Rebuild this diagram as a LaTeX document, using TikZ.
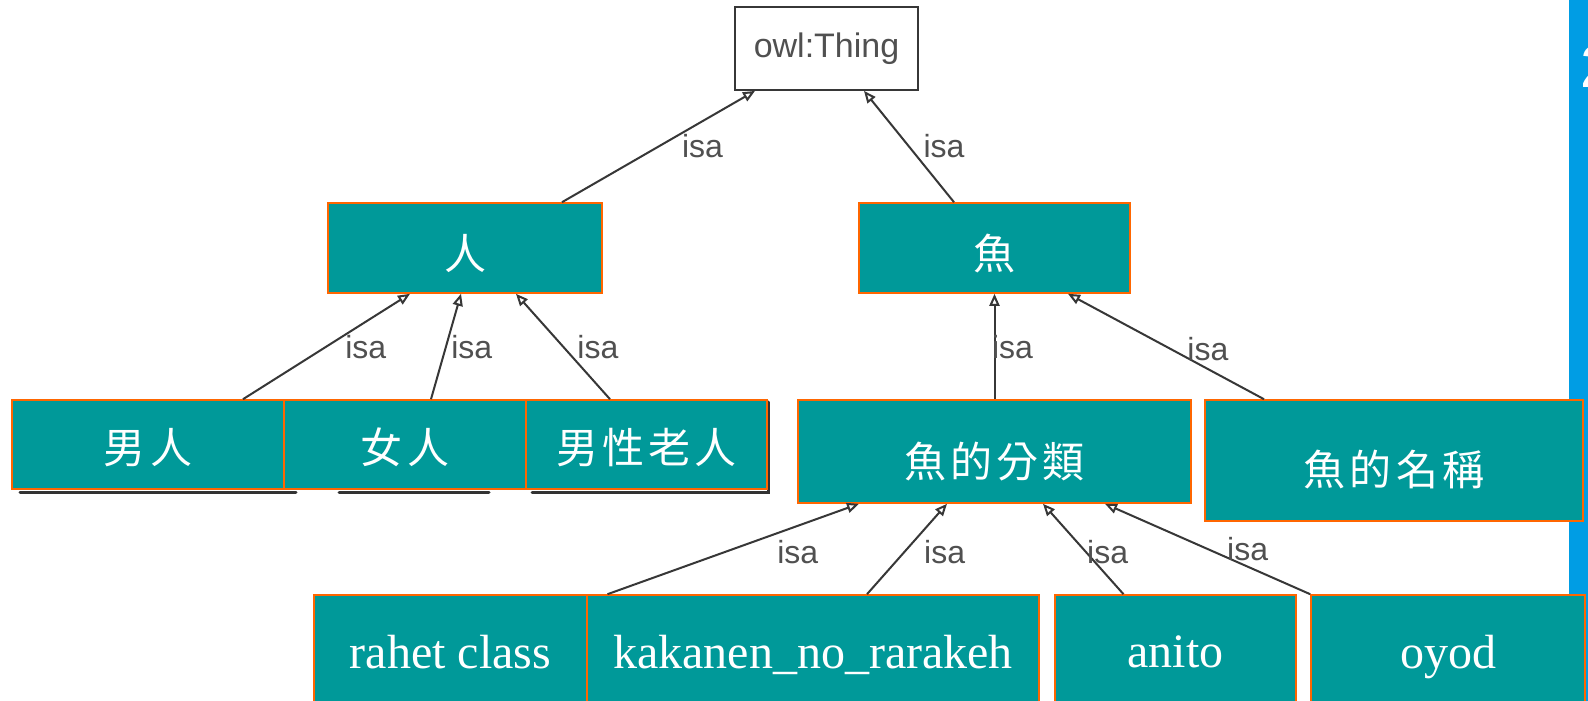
\documentclass[tikz,border=0pt]{standalone}
\usepackage{fontspec}
\setmainfont{Liberation Serif}
\newfontfamily\cjk[LetterSpace=10]{Noto Sans CJK TC}
\newfontfamily\arialf{Liberation Sans}
\usetikzlibrary{arrows.meta,calc}
\definecolor{boxfill}{RGB}{0,153,153}
\definecolor{boxline}{RGB}{255,102,0}
\definecolor{barblue}{RGB}{0,157,228}
\definecolor{edgegray}{RGB}{55,55,55}
\definecolor{lblgray}{RGB}{80,80,80}
\newcommand{\lowr}[2]{\raisebox{-#1}[\height][\depth]{#2}}
\newcommand{\lowlat}[1]{\raisebox{-2pt}[\height][0pt]{#1}}
\tikzset{
  cls/.style={draw=boxline, fill=boxfill, line width=1.6pt, inner sep=0pt, text=white, align=center},
  cjkcls/.style={cls, font=\cjk\fontsize{42}{48}\selectfont},
  latcls/.style={cls, font=\fontsize{48}{54}\selectfont},
  thingbox/.style={draw=edgegray, fill=white, line width=1.8pt, inner sep=0pt, text=lblgray, font=\arialf\fontsize{34}{38}\selectfont},
  isa/.style={draw=edgegray, line width=2pt, -{Triangle[open, length=12pt, width=10pt]}},
  lbl/.style={text=lblgray, font=\arialf\fontsize{32}{36}\selectfont, inner sep=0pt},
  shade/.style={draw=black!80, line width=3pt, line cap=round}
}
\begin{document}
\begin{tikzpicture}[x=1pt,y=-1pt]
\useasboundingbox (0,0) rectangle (1588,701);
\fill[white] (0,0) rectangle (1588,701);
% blue bar at right
\fill[barblue] (1569,0) rectangle (1590,705);
\node[anchor=west, inner sep=0pt, text=white, font=\arialf\fontsize{60}{60}\selectfont] (digit) at (1580,67) {2};

% shadows of the underlying boxes
\draw[shade] (20,492.5) -- (296,492.5);
\draw[shade] (339,492.5) -- (489,492.5);
\draw[shade] (532,492.5) -- (768,492.5) -- (768,402);

% nodes
\node[thingbox, minimum width=183pt, minimum height=83pt] (thing) at (826.5,48.5) {owl:Thing};

\node[cjkcls, minimum width=274pt, minimum height=90pt] (ren) at (465,248) {\lowr{6pt}{人}};
\node[cjkcls, minimum width=271pt, minimum height=90pt] (yu) at (994.5,248) {\lowr{6pt}{魚}};

\node[cjkcls, minimum width=272pt, minimum height=89pt] (nanren) at (148,444.5) {\lowr{3pt}{男人}};
\node[cjkcls, minimum width=242pt, minimum height=89pt] (nvren) at (405,444.5) {\lowr{3pt}{女人}};
\node[cjkcls, minimum width=241pt, minimum height=89pt] (laoren) at (646.5,444.5) {\lowr{3pt}{男性老人}};
\node[cjkcls, minimum width=393pt, minimum height=103pt] (fenlei) at (994.5,451.5) {\lowr{10pt}{魚的分類}};
\node[cjkcls, minimum width=378pt, minimum height=121pt] (mingcheng) at (1394,460.5) {\lowr{9pt}{魚的名稱}};

\node[latcls, minimum width=273pt, minimum height=110pt] (rahet) at (450.5,650) {\lowlat{rahet class}};
\node[latcls, minimum width=452pt, minimum height=110pt] (kakanen) at (813,650) {\lowlat{kakanen\_no\_rarakeh}};
\node[latcls, minimum width=241pt, minimum height=110pt] (anito) at (1175.5,650) {\lowlat{anito}};
\node[latcls, minimum width=274pt, minimum height=110pt] (oyod) at (1448,650) {\lowlat{oyod}};

% connectors
\draw[isa] ([xshift=97pt]ren.north) -- node[lbl, pos=0.5, xshift=44pt] {isa} ([xshift=-71.5pt]thing.south);
\draw[isa] ([xshift=-40.5pt]yu.north) -- node[lbl, pos=0.5, xshift=35pt] {isa} ([xshift=37.5pt]thing.south);

\draw[isa] ([xshift=95pt]nanren.north) -- node[lbl, pos=0.49, xshift=41pt] {isa} ([xshift=-55pt]ren.south);
\draw[isa] ([xshift=26pt]nvren.north) -- node[lbl, pos=0.49, xshift=26pt] {isa} ([xshift=-4pt]ren.south);
\draw[isa] ([xshift=-36.5pt]laoren.north) -- node[lbl, pos=0.49, xshift=34pt] {isa} ([xshift=51pt]ren.south);

\draw[isa] (fenlei.north) -- node[lbl, pos=0.49, xshift=18pt] {isa} (yu.south);
\draw[isa] ([xshift=-130pt]mingcheng.north) -- node[lbl, pos=0.48, xshift=38pt] {isa} ([xshift=73.5pt]yu.south);

\draw[isa] ([xshift=157pt]rahet.north) -- node[lbl, pos=0.47, xshift=72pt] {isa} ([xshift=-135.5pt]fenlei.south);
\draw[isa] ([xshift=54pt]kakanen.north) -- node[lbl, pos=0.47, xshift=40pt] {isa} ([xshift=-47.5pt]fenlei.south);
\draw[isa] ([xshift=-52pt]anito.north) -- node[lbl, pos=0.47, xshift=22pt] {isa} ([xshift=48.5pt]fenlei.south);
\draw[isa] (oyod.north west) -- node[lbl, pos=0.5, xshift=40pt] {isa} ([xshift=110.5pt]fenlei.south);
\end{tikzpicture}
\end{document}
